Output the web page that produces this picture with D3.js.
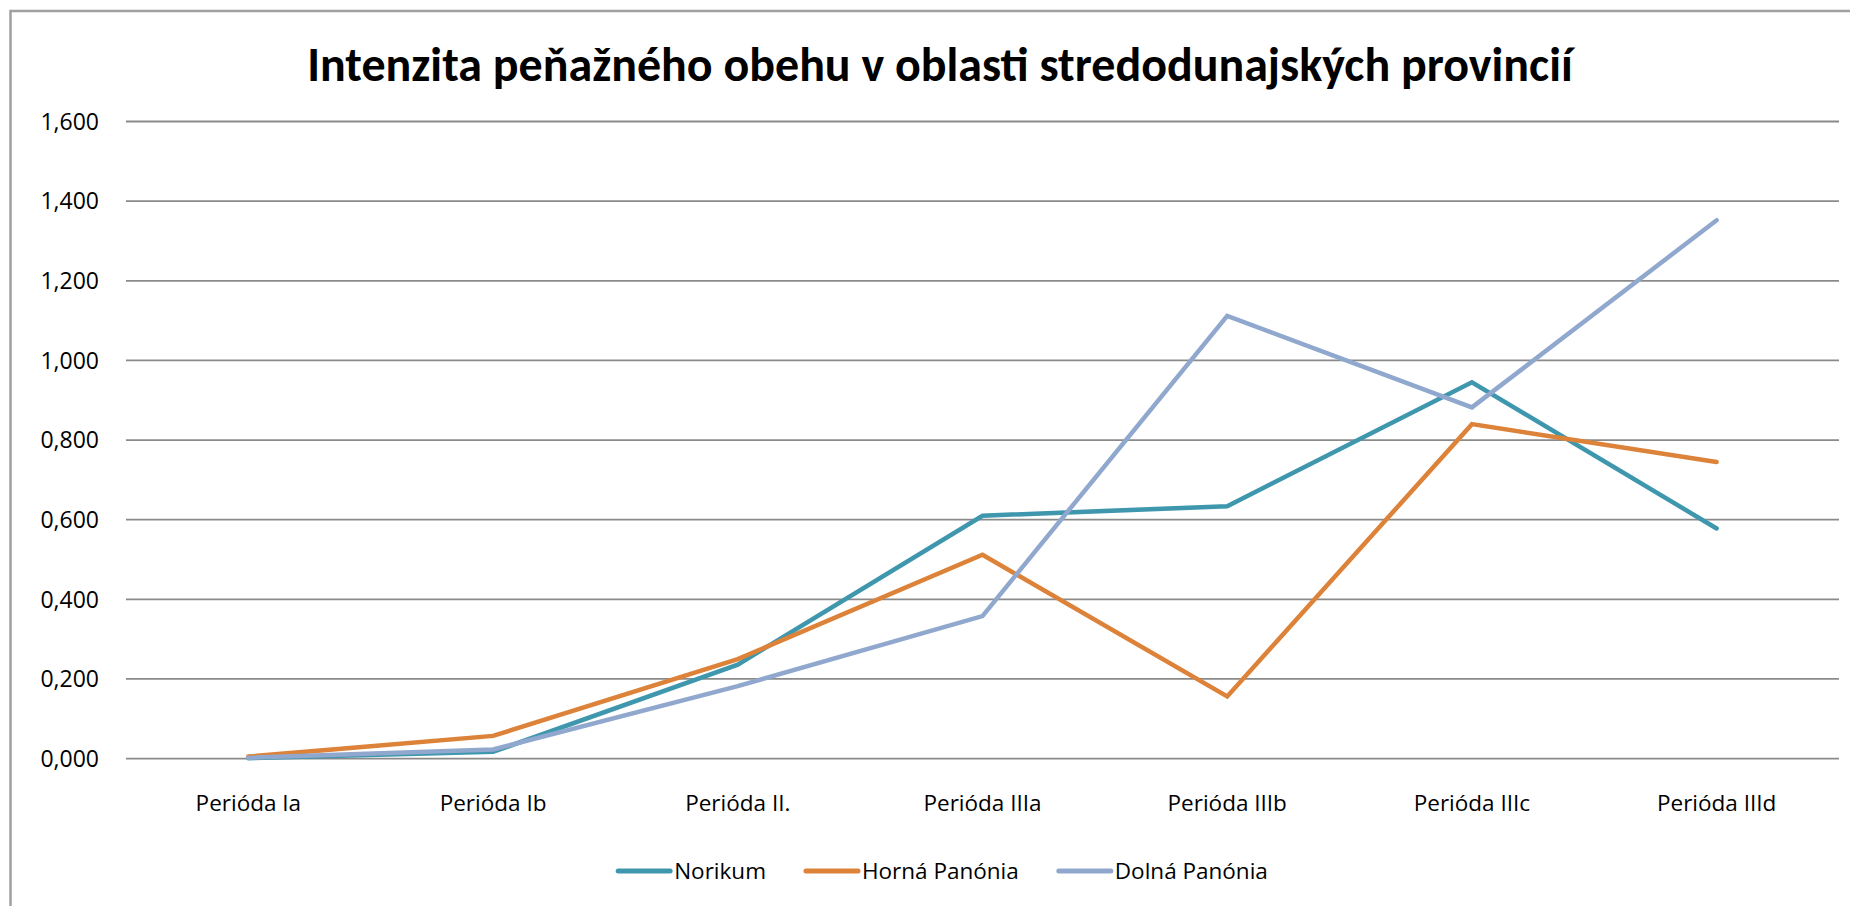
<!DOCTYPE html>
<html>
<head>
    <meta charset="utf-8">
    <title>Intenzita peňažného obehu</title>
    <script src="https://d3js.org/d3.v7.min.js" charset="utf-8"></script>

    <style>
        body { margin: 0; background: #fff; }
        svg text { font-family: "Open Sans", "Noto Sans", sans-serif; fill: #000; }
        svg text.title { font-family: Carlito, Lato, sans-serif; font-weight: bold; }
        .grid line { stroke: #8a8a8a; stroke-width: 1.8; }
        .series { fill: none; stroke-width: 4.5; stroke-linecap: round; stroke-linejoin: miter; }
    </style>
</head>
<body>

<div id="vis"></div>

<script>

    // data
    var periods = ["Perióda Ia", "Perióda Ib", "Perióda II.", "Perióda IIIa", "Perióda IIIb", "Perióda IIIc", "Perióda IIId"];
    var norikum = [0.001, 0.017, 0.236, 0.610, 0.634, 0.945, 0.578];
    var hornaPanonia = [0.005, 0.057, 0.250, 0.512, 0.156, 0.840, 0.745];
    var dolnaPanonia = [0.002, 0.023, 0.182, 0.358, 1.112, 0.882, 1.352];
    var seriesNames = ["Norikum", "Horná Panónia", "Dolná Panónia"];
    var yTicks = [0, 0.2, 0.4, 0.6, 0.8, 1.0, 1.2, 1.4, 1.6];
    var title = "Intenzita peňažného obehu v oblasti stredodunajských provincií";

    var colors = ["#3f97ae", "#dd8239", "#91a8ce"];

    var width = 1850, height = 906;

    var svg = d3.select("#vis").append("svg")
            .attr("width", width)
            .attr("height", height);

    // outer chart frame (runs off the right and bottom edge)
    svg.append("rect")
            .attr("x", 10.5).attr("y", 11)
            .attr("width", 1880).attr("height", 920)
            .style("fill", "#fff")
            .style("stroke", "#a0a0a0")
            .style("stroke-width", 2.5);

    var x = d3.scalePoint()
            .domain(periods)
            .range([126, 1839])
            .padding(0.5);

    var y = d3.scaleLinear()
            .domain([0, 1.6])
            .range([758.6, 121.5]);

    var sk = d3.formatLocale({decimal: ",", thousands: " ", grouping: [3], currency: ["", ""]});
    var fmt = sk.format(".3f");

    // title, scaled to the width it has in the picture
    var t = svg.append("text")
            .attr("class", "title")
            .attr("x", 940)
            .attr("y", 81)
            .attr("text-anchor", "middle")
            .style("font-size", "50px")
            .text(title);
    var tw = t.node().getComputedTextLength();
    t.style("font-size", (50 * 1266 / tw) + "px");

    // gridlines + y labels
    var grid = svg.append("g").attr("class", "grid");
    grid.selectAll("line").data(yTicks).enter().append("line")
            .attr("x1", x.range()[0]).attr("x2", x.range()[1])
            .attr("y1", function(d){ return y(d); })
            .attr("y2", function(d){ return y(d); });

    svg.append("g").selectAll("text").data(yTicks).enter().append("text")
            .attr("x", 99)
            .attr("y", function(d){ return y(d); })
            .attr("dy", "0.36em")
            .attr("text-anchor", "end")
            .style("font-size", "23px")
            .text(function(d){ return fmt(d); });

    // x labels
    svg.append("g").selectAll("text").data(periods).enter().append("text")
            .attr("x", function(d){ return x(d); })
            .attr("y", 811)
            .attr("text-anchor", "middle")
            .style("font-size", "22.5px")
            .text(function(d){ return d; });

    // lines
    var line = d3.line()
            .x(function(d, i){ return x(periods[i]); })
            .y(function(d){ return y(d); });

    svg.append("g").selectAll("path").data([norikum, hornaPanonia, dolnaPanonia]).enter().append("path")
            .attr("class", "series")
            .attr("d", line)
            .style("stroke", function(d, i){ return colors[i]; });

    // legend, centred under the chart
    var legend = svg.append("g");
    var lx = 0;
    seriesNames.forEach(function(name, i){
        var g = legend.append("g").attr("transform", "translate(" + lx + ",0)");
        g.append("line")
                .attr("x1", 2).attr("x2", 54)
                .attr("y1", 0).attr("y2", 0)
                .style("stroke", colors[i])
                .style("stroke-width", 5)
                .style("stroke-linecap", "round");
        var txt = g.append("text")
                .attr("x", 58)
                .attr("dy", "0.36em")
                .style("font-size", "22.5px")
                .text(name);
        lx += 58 + txt.node().getComputedTextLength() + 38;
    });
    lx -= 38;
    legend.attr("transform", "translate(" + (942 - lx / 2) + ",871)");

</script>

</body>
</html>
